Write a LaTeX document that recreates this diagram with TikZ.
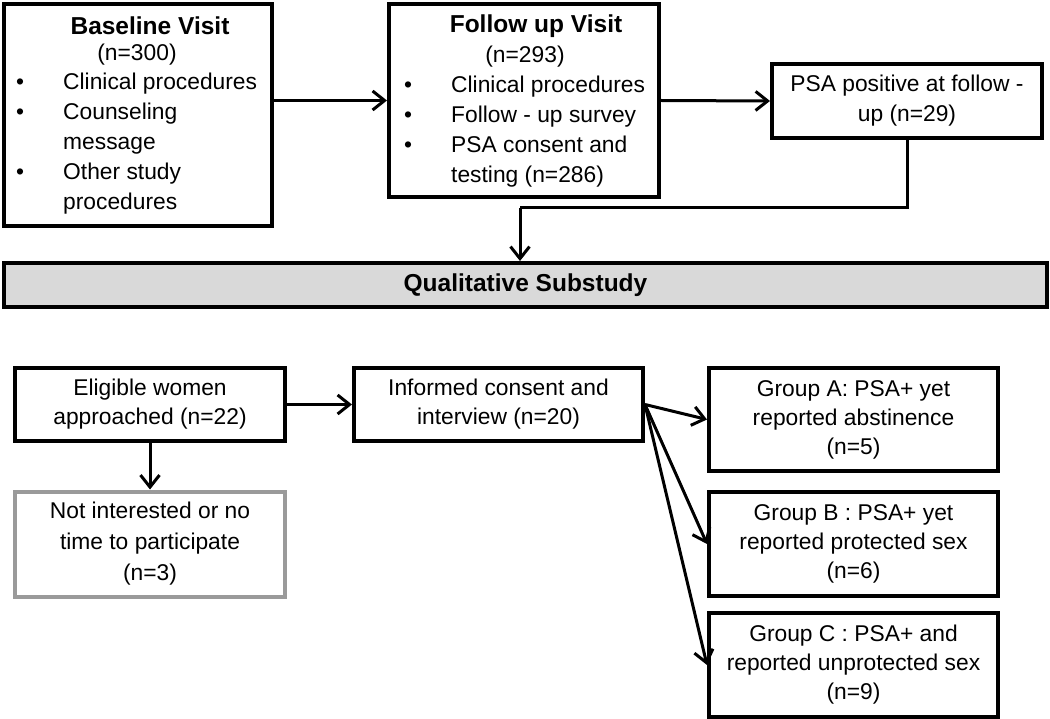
\documentclass[tikz,border=0pt]{standalone}
\usepackage{fontspec}
\setmainfont{Liberation Sans}
\usetikzlibrary{arrows.meta}
\definecolor{barfill}{HTML}{D9D9D9}
\definecolor{greyline}{HTML}{9A9A9A}
\begin{document}
\begin{tikzpicture}[x=1pt,y=-1pt,
  box/.style={draw=black, line width=4pt, inner sep=0pt, align=center,
    font=\fontsize{22.8}{29}\selectfont},
  greybox/.style={box, draw=greyline},
  txt/.style={inner sep=0pt, font=\fontsize{22.8}{30}\selectfont},
  ttl/.style={inner sep=0pt, font=\fontsize{24.5}{28}\selectfont\bfseries},
  conn/.style={line width=3pt, -{Straight Barb[length=12pt,width=19pt,line width=3pt]}},
  link/.style={line width=3pt}
]
\useasboundingbox (0,0) rectangle (1050,719);

% upper boxes
\node[box, minimum width=268pt, minimum height=222pt] (base) at (138,115) {};
\node[ttl] (basetitle) at (150,26) {Baseline Visit};
\node[txt] (basen) at (137,55) {(n=300)};
\node[txt, anchor=west, align=left] (baselist) at (16,144)
  {\begin{tabular}{@{}p{47pt}@{}l@{}}
   \textbullet & Clinical procedures\\
   \textbullet & Counseling\\
               & message\\
   \textbullet & Other study\\
               & procedures
   \end{tabular}};

\node[box, minimum width=270pt, minimum height=193pt] (follow) at (524,100.5) {};
\node[ttl] (followtitle) at (536,26) {Follow up Visit};
\node[txt] (follown) at (525,57) {(n=293)};
\node[txt, anchor=west, align=left] (followlist) at (404,132)
  {\begin{tabular}{@{}p{47pt}@{}l@{}}
   \textbullet & Clinical procedures\\
   \textbullet & Follow - up survey\\
   \textbullet & PSA consent and\\
               & testing (n=286)
   \end{tabular}};

\node[box, minimum width=270pt, minimum height=74pt, font=\fontsize{22.8}{30}\selectfont] (psa) at (907,101)
  {PSA positive at follow -\\up (n=29)};

% substudy bar
\node[box, fill=barfill, minimum width=1043pt, minimum height=44pt,
  font=\fontsize{24.5}{28}\selectfont\bfseries] (bar) at (525.5,285) {Qualitative Substudy};

% lower boxes
\node[box, minimum width=270pt, minimum height=73pt] (elig) at (150,404.5)
  {Eligible women\\approached (n=22)};
\node[greybox, minimum width=270pt, minimum height=105pt, font=\fontsize{22.8}{31}\selectfont] (noint) at (150,544)
  {Not interested or no\\time to participate\\(n=3)};
\node[box, minimum width=289pt, minimum height=73pt] (inf) at (498.5,404.5)
  {Informed consent and\\interview (n=20)};
\node[box, minimum width=289pt, minimum height=103pt] (ga) at (853.5,419.5)
  {Group A: PSA+ yet\\reported abstinence\\(n=5)};
\node[box, minimum width=289pt, minimum height=104pt] (gb) at (853.5,544)
  {Group B : PSA+ yet\\reported protected sex\\(n=6)};
\node[box, minimum width=289pt, minimum height=104pt] (gc) at (853.5,665)
  {Group C : PSA+ and\\reported unprotected sex\\(n=9)};

% connectors
\coordinate (psadown) at (907,208);
\coordinate (barleft) at (520,208);
\draw[conn] (base.east |- follow.west) -- (follow.west);
\draw[conn] (follow.east) -- (psa.west);
\draw[link] (psa.south) -- (psadown) -- (barleft);
\draw[conn] (barleft) -- (barleft |- bar.north);
\draw[conn] (elig.east) -- (inf.west);
\draw[conn] (elig.south) -- (noint.north);
\draw[conn] (inf.east) -- (ga.west);
\draw[conn] (inf.east) -- (gb.west);
\draw[conn] (inf.east) -- (gc.west);
\end{tikzpicture}
\end{document}
